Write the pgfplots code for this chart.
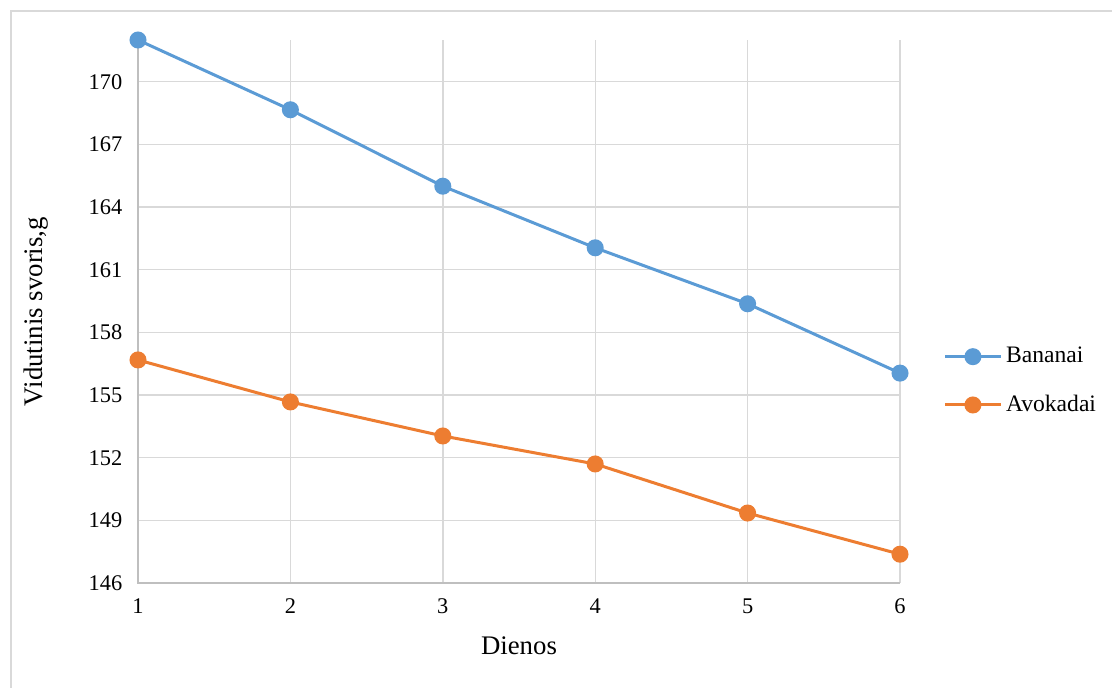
\documentclass[border=0pt]{standalone}
\usepackage{pgfplots}
\pgfplotsset{compat=1.18}
\usepackage{fontspec}
\setmainfont{Liberation Serif}
\definecolor{cblue}{HTML}{5B9BD5}
\definecolor{corange}{HTML}{ED7D31}
\definecolor{cgrid}{HTML}{D9D9D9}
\definecolor{caxis}{HTML}{BFBFBF}
\begin{document}
\fontsize{11}{13}\selectfont
\begin{tikzpicture}
\path[use as bounding box] (0pt,0pt) rectangle (556pt,343.5pt);
\begin{axis}[
  at={(69pt,52pt)}, anchor=south west,
  scale only axis, width=381pt, height=271.5pt,
  xmin=1, xmax=6, ymin=146, ymax=172,
  xtick={1,2,3,4,5,6},
  ytick={146,149,152,155,158,161,164,167,170},
  /pgf/number format/assume math mode=true,
  ticklabel style={font=\fontsize{11.2}{13}\selectfont},
  grid=major, grid style={cgrid, line width=0.7pt},
  axis line style={draw=none},
  tick style={draw=none},
  yticklabel style={xshift=-4pt},
  xticklabel style={yshift=-4pt},
  xlabel={Dienos}, ylabel={Vidutinis svoris,g},
  label style={font=\fontsize{13.4}{15}\selectfont},
  xlabel style={at={(axis description cs:0.5,0)}, anchor=north, yshift=-23pt},
  ylabel style={at={(axis description cs:0,0.5)}, anchor=south, yshift=41pt},
  legend style={at={(axis description cs:1.057,0.372)}, anchor=west, draw=none, fill=none,
    font=\fontsize{11.8}{13}\selectfont, row sep=10.5pt, inner sep=0pt},
  legend cell align=left,
  legend image code/.code={
    \draw[#1, mark=none] (0cm,0cm) -- (0.97cm,0cm);
    \draw[#1, only marks] plot coordinates {(0.485cm,0cm)};
  },
  clip=false,
]
\draw[caxis, line width=0.8pt] (axis cs:1,172) -- (axis cs:1,146) -- (axis cs:6,146);
\addplot[cblue, line width=1.5pt, mark=*, mark size=3.5pt, mark options={fill=cblue, draw=cblue}]
  coordinates {(1,172) (2,168.66) (3,165.0) (4,162.05) (5,159.37) (6,156.05)};
\addlegendentry{Bananai}
\addplot[corange, line width=1.5pt, mark=*, mark size=3.5pt, mark options={fill=corange, draw=corange}]
  coordinates {(1,156.68) (2,154.67) (3,153.04) (4,151.7) (5,149.35) (6,147.38)};
\addlegendentry{Avokadai}
\end{axis}
\draw[cgrid, line width=0.7pt] (5.5pt,-3pt) -- (5.5pt,338pt) -- (560pt,338pt);
\end{tikzpicture}
\end{document}
